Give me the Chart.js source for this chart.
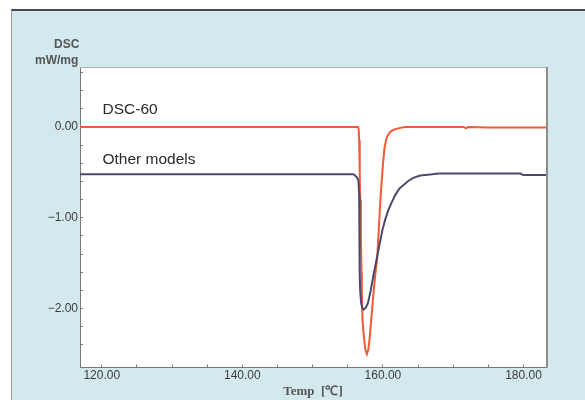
<!DOCTYPE html>
<html>
<head>
<meta charset="utf-8">
<script src="https://cdn.jsdelivr.net/npm/chart.js@4/dist/chart.umd.min.js"></script>
<style>
  html, body { margin: 0; padding: 0; background: #fff; }
  body { width: 585px; height: 400px; position: relative; overflow: hidden; }
  .frame {
    position: absolute; left: 11px; top: 9px; right: 0; bottom: 0;
    background: #d4e9ee;
    border-top: 2px solid #4a4a4a;
    border-left: 1px solid #9a9a9a;
  }
  #dscChart { position: absolute; left: 0; top: 0; }
</style>
</head>
<body>
<div class="frame"></div>
<canvas id="dscChart" width="585" height="400"></canvas>
<script>
// DSC-60 trace (temperature in °C, heat flow in mW/mg)
const dsc60Temp = [116.9, 150.0, 156.45, 156.55, 156.62, 156.7, 156.76, 156.86, 156.95, 157.0, 157.09, 157.33, 157.5,
  157.72, 157.92, 158.09, 158.33, 158.57, 158.9, 159.17, 159.41, 159.64, 159.99, 160.22, 160.46, 160.71, 161.03,
  161.5, 162.46, 163.17, 171.5, 171.8, 172.1, 175.0, 183.2];
const dsc60Value = [0, 0, 0, -0.03, -0.15, -0.5, -0.8, -1.2, -1.6, -1.8, -2.13, -2.34, -2.45,
  -2.5, -2.45, -2.34, -2.13, -1.9, -1.63, -1.46, -1.13, -0.8, -0.42, -0.23, -0.14, -0.09, -0.055,
  -0.03, -0.01, 0, 0, -0.015, 0, -0.005, -0.005];

// Other models trace
const otherTemp = [116.9, 155.77, 156.05, 156.34, 156.52, 156.62, 156.66, 156.71, 156.76, 156.9, 157.05, 157.23,
  157.55, 157.86, 158.26, 158.66, 159.37, 159.94, 160.32, 160.79, 161.25, 161.75, 162.32, 162.93, 163.6,
  164.31, 165.31, 166.73, 167.87, 179.54, 179.97, 183.2];
const otherValue = [-0.52, -0.52, -0.534, -0.56, -0.595, -0.75, -1.13, -1.57, -1.8, -1.94, -1.99, -2.01,
  -1.99, -1.94, -1.8, -1.63, -1.35, -1.13, -1.02, -0.91, -0.83, -0.75, -0.68, -0.64, -0.595,
  -0.56, -0.534, -0.523, -0.513, -0.513, -0.53, -0.53];

const xTicks = [120, 125, 130, 135, 140, 145, 150, 155, 160, 165, 170, 175, 180];
const xLabelTicks = [120, 140, 160, 180];
const yTicks = [0.6, 0.4, 0.2, 0, -0.2, -0.4, -0.6, -0.8, -1, -1.2, -1.4, -1.6, -1.8, -2, -2.2, -2.4];
const yLabelTicks = [0, -1, -2];

const seriesNames = ['DSC-60', 'Other models'];
const yUnitTitle = ['DSC', 'mW/mg'];
const xTitle = 'Temp  [℃]';

const fmt = (v) => v.toFixed(2).replace('-', '−');
const toPoints = (xs, ys) => xs.map((x, i) => ({ x, y: ys[i] }));

const plotFrame = {
  id: 'plotFrame',
  beforeDraw(chart) {
    const { ctx, chartArea: a } = chart;
    ctx.save();
    ctx.fillStyle = '#ffffff';
    ctx.fillRect(a.left, a.top, a.right - a.left, a.bottom - a.top);
    ctx.restore();
  },
  beforeDatasetsDraw(chart) {
    const { ctx, chartArea: a } = chart;
    ctx.save();
    ctx.strokeStyle = '#b0b0b0';
    ctx.lineWidth = 1;
    ctx.beginPath();
    ctx.moveTo(a.left, a.top + 0.5);
    ctx.lineTo(a.right, a.top + 0.5);
    ctx.stroke();
    ctx.strokeStyle = '#8c8c8c';
    ctx.lineWidth = 2;
    ctx.beginPath();
    ctx.moveTo(a.right + 1, a.top);
    ctx.lineTo(a.right + 1, a.bottom);
    ctx.stroke();
    ctx.restore();
  },
  afterDraw(chart) {
    const { ctx } = chart;
    const xs = chart.scales.x;
    const ys = chart.scales.y;
    ctx.save();
    // unit title, top-left
    ctx.fillStyle = '#555';
    ctx.font = 'bold 12px "Liberation Sans", Arial, sans-serif';
    ctx.textBaseline = 'middle';
    ctx.textAlign = 'left';
    ctx.fillText(yUnitTitle[0], 54, 45);
    ctx.fillText(yUnitTitle[1], 35, 61);
    // series labels inside plot
    ctx.fillStyle = '#2a2a2a';
    ctx.font = '15.5px "Liberation Sans", Arial, sans-serif';
    ctx.textBaseline = 'alphabetic';
    ctx.fillText(seriesNames[0], xs.getPixelForValue(120.1), ys.getPixelForValue(0.143));
    ctx.fillText(seriesNames[1], xs.getPixelForValue(120.1), ys.getPixelForValue(-0.41));
    ctx.restore();
  },
};

new Chart(document.getElementById('dscChart'), {
  type: 'line',
  data: {
    datasets: [
      {
        label: seriesNames[0],
        data: toPoints(dsc60Temp, dsc60Value),
        borderColor: '#f05a38',
        borderWidth: 2,
        pointRadius: 0,
        tension: 0,
        order: 1,
      },
      {
        label: seriesNames[1],
        data: toPoints(otherTemp, otherValue),
        borderColor: '#4a4a6c',
        borderWidth: 2,
        pointRadius: 0,
        tension: 0,
        order: 0,
      },
    ],
  },
  options: {
    responsive: false,
    animation: false,
    devicePixelRatio: 1,
    layout: { padding: { left: 0, right: 39, top: 67, bottom: 0 } },
    scales: {
      x: {
        type: 'linear',
        min: 116.9,
        max: 183.2,
        afterBuildTicks: (scale) => { scale.ticks = xTicks.map((value) => ({ value })); },
        afterFit: (scale) => { scale.height = 32.3; },
        ticks: {
          autoSkip: false,
          maxRotation: 0,
          padding: 4,
          color: '#3c3c3c',
          font: { family: '"Liberation Sans", Arial, sans-serif', size: 12 },
          callback: (value) => (xLabelTicks.includes(value) ? fmt(value) : ''),
        },
        grid: { drawOnChartArea: false, drawTicks: true, tickLength: -3, color: '#777' },
        border: { color: '#777', width: 1 },
        title: {
          display: true,
          text: xTitle,
          color: '#555',
          font: { family: '"Liberation Serif", "Times New Roman", serif', size: 13, weight: 'bold' },
          padding: { top: 0, bottom: 1 },
        },
      },
      y: {
        type: 'linear',
        min: -2.65,
        max: 0.66,
        afterBuildTicks: (scale) => { scale.ticks = yTicks.map((value) => ({ value })); },
        afterFit: (scale) => { scale.width = 80; },
        ticks: {
          autoSkip: false,
          padding: 5,
          color: '#3c3c3c',
          font: { family: '"Liberation Sans", Arial, sans-serif', size: 12 },
          callback: (value) => (yLabelTicks.some((t) => Math.abs(t - value) < 1e-6) ? fmt(value) : ''),
        },
        grid: { drawOnChartArea: false, drawTicks: true, tickLength: -3, color: '#777' },
        border: { color: '#777', width: 1 },
      },
    },
    plugins: {
      legend: { display: false },
      tooltip: { enabled: false },
    },
  },
  plugins: [plotFrame],
});
</script>
</body>
</html>
